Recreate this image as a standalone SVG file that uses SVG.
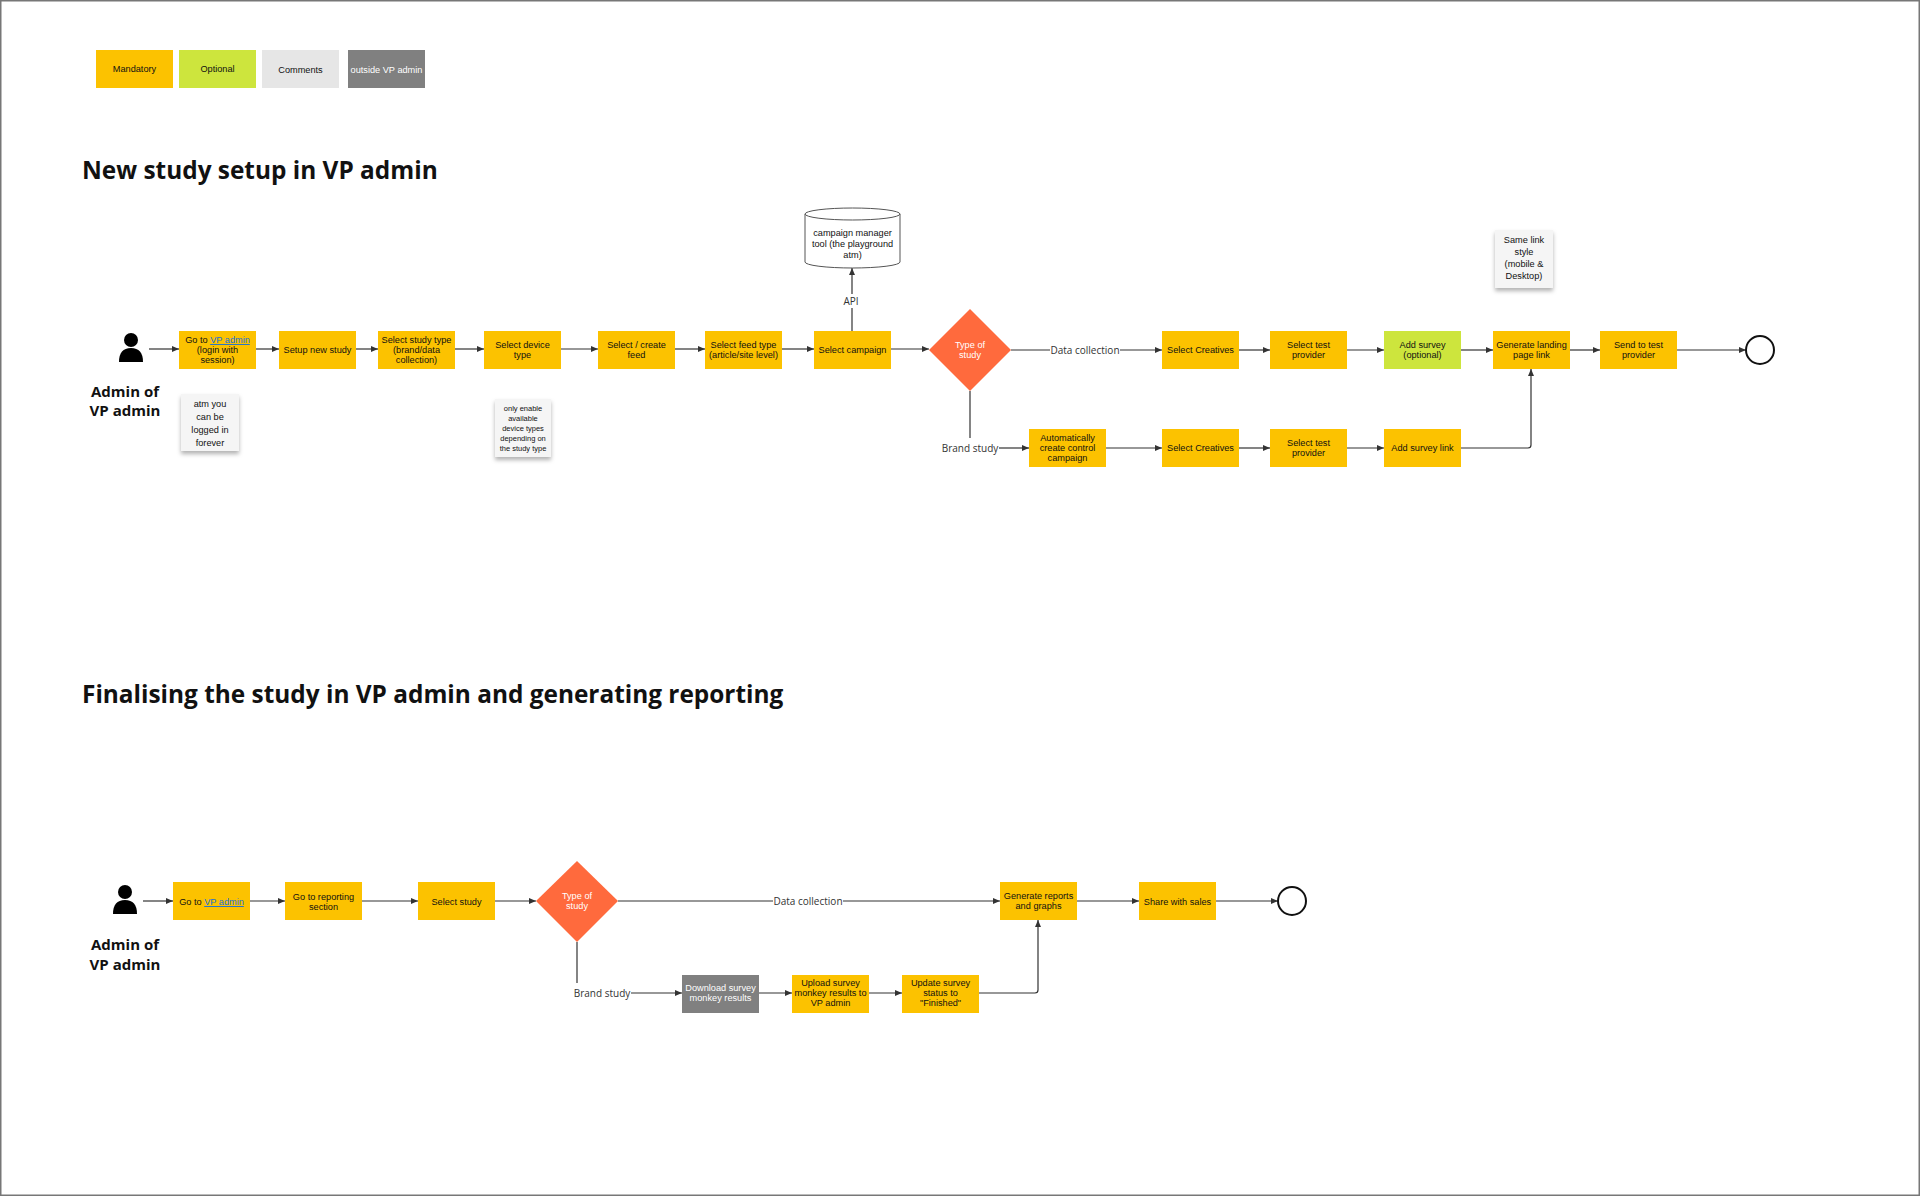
<svg xmlns="http://www.w3.org/2000/svg" width="1920" height="1196" viewBox="0 0 1920 1196">
<defs>
<marker id="ar" markerWidth="8" markerHeight="8" refX="7" refY="4" orient="auto" markerUnits="userSpaceOnUse"><path d="M0,1 L7,4 L0,7 z" fill="#333"/></marker>
<filter id="sh" x="-20%" y="-20%" width="140%" height="150%"><feDropShadow dx="0" dy="3" stdDeviation="2" flood-color="#000" flood-opacity="0.3"/></filter>
</defs>
<style>
.m{fill:#fcc200}.o{fill:#cde53d}.c{fill:#e6e6e6}.g{fill:#808080}
.t{font-family:"Liberation Sans",Arial,sans-serif;font-size:9.2px;fill:#111;text-anchor:middle}
.lb{font-family:"Open Sans","Liberation Sans",sans-serif;font-size:10px;fill:#333;text-anchor:middle}
.bg{fill:#fff}
.h{font-family:"Open Sans","Noto Sans",sans-serif;font-size:24.4px;font-weight:bold;fill:#111}
.a{font-family:"Open Sans","Noto Sans",sans-serif;font-size:15px;font-weight:bold;fill:#111;text-anchor:middle}
.n{fill:#f5f5f5;filter:url(#sh)}
.ln{fill:none;stroke:#333;stroke-width:1.2;marker-end:url(#ar)}
.pl{fill:none;stroke:#333;stroke-width:1.2}
.lk{fill:#1a6fd6;text-decoration:underline}
.d{fill:#ff6a3d}
</style>
<rect x="0.5" y="0.5" width="1919" height="1195" fill="#fff" stroke="#777" stroke-width="2"/>
<g id="legend">
<rect class="m" x="96" y="50" width="77" height="38"/><text class="t" x="134.5" y="72">Mandatory</text>
<rect class="o" x="179" y="50" width="77" height="38"/><text class="t" x="217.5" y="72">Optional</text>
<rect class="c" x="262" y="50" width="77" height="38"/><text class="t" x="300.5" y="73">Comments</text>
<rect class="g" x="348" y="50" width="77" height="38"/><text class="t" x="386.5" y="73" style="fill:#fff">outside VP admin</text>
</g>
<text class="h" x="82" y="179">New study setup in VP admin</text>
<text class="h" x="82" y="703">Finalising the study in VP admin and generating reporting</text>
<g id="connectors">
<path class="ln" d="M149,349 H179"/>
<path class="ln" d="M256,349 H279"/>
<path class="ln" d="M356,349 H378"/>
<path class="ln" d="M455,349 H484"/>
<path class="ln" d="M561,349 H598"/>
<path class="ln" d="M675,349 H705"/>
<path class="ln" d="M782,349 H814"/>
<path class="ln" d="M891,349 H929"/>
<path class="ln" d="M852,331 V268"/>
<rect class="bg" x="840" y="294" width="24" height="14"/>
<text class="lb" x="851" y="305">API</text>
<path class="ln" d="M1011,350 H1162"/>
<rect class="bg" x="1050" y="343" width="70" height="14"/>
<text class="lb" x="1085" y="354">Data collection</text>
<path class="ln" d="M1239,350 H1270"/>
<path class="ln" d="M1347,350 H1384"/>
<path class="ln" d="M1461,350 H1493"/>
<path class="ln" d="M1570,350 H1600"/>
<path class="ln" d="M1677,350 H1746"/>
<path class="pl" d="M970,391 V438"/>
<text class="lb" x="970" y="452">Brand study</text>
<path class="ln" d="M999,448 H1029"/>
<path class="ln" d="M1106,448 H1162"/>
<path class="ln" d="M1239,448 H1270"/>
<path class="ln" d="M1347,448 H1384"/>
<path class="ln" d="M1461,448 H1528 Q1531,448 1531,445 V369"/>
<path class="ln" d="M143,901 H173"/>
<path class="ln" d="M250,901 H285"/>
<path class="ln" d="M362,901 H418"/>
<path class="ln" d="M495,901 H536"/>
<path class="ln" d="M618,901 H1000"/>
<rect class="bg" x="773" y="894" width="70" height="14"/>
<text class="lb" x="808" y="905">Data collection</text>
<path class="ln" d="M1077,901 H1139"/>
<path class="ln" d="M1216,901 H1278"/>
<path class="pl" d="M577,942 V983"/>
<text class="lb" x="602" y="997">Brand study</text>
<path class="ln" d="M631,993 H682"/>
<path class="ln" d="M759,993 H792"/>
<path class="ln" d="M869,993 H902"/>
<path class="ln" d="M979,993 H1035 Q1038,993 1038,990 V920"/>
</g>
<g id="actor1"><circle cx="131" cy="340" r="7" fill="#000"/><path d="M119,362 Q119,348 131,348 Q143,348 143,362 z" fill="#000"/><text class="a" x="125" y="397">Admin of</text><text class="a" x="125" y="416">VP admin</text></g>
<g id="n1"><rect class="m" x="179" y="331" width="77" height="38"/><text class="t" x="217.5" y="343">Go to <tspan class="lk">VP admin</tspan></text><text class="t" x="217.5" y="353">(login with</text><text class="t" x="217.5" y="363">session)</text></g>
<g id="n2"><rect class="m" x="279" y="331" width="77" height="38"/><text class="t" x="317.5" y="353">Setup new study</text></g>
<g id="n3"><rect class="m" x="378" y="331" width="77" height="38"/><text class="t" x="416.5" y="343">Select study type</text><text class="t" x="416.5" y="353">(brand/data</text><text class="t" x="416.5" y="363">collection)</text></g>
<g id="n4"><rect class="m" x="484" y="331" width="77" height="38"/><text class="t" x="522.5" y="348">Select device</text><text class="t" x="522.5" y="358">type</text></g>
<g id="n5"><rect class="m" x="598" y="331" width="77" height="38"/><text class="t" x="636.5" y="348">Select / create</text><text class="t" x="636.5" y="358">feed</text></g>
<g id="n6"><rect class="m" x="705" y="331" width="77" height="38"/><text class="t" x="743.5" y="348">Select feed type</text><text class="t" x="743.5" y="358">(article/site level)</text></g>
<g id="n7"><rect class="m" x="814" y="331" width="77" height="38"/><text class="t" x="852.5" y="353">Select campaign</text></g>
<g id="db"><path d="M805,214 V262 A47.5,6 0 0 0 900,262 V214" fill="#fff" stroke="#555"/><ellipse cx="852.5" cy="214" rx="47.5" ry="6" fill="#fff" stroke="#555"/><text class="t" x="852.5" y="236">campaign manager</text><text class="t" x="852.5" y="247">tool (the playground</text><text class="t" x="852.5" y="258">atm)</text></g>
<g id="d1"><path class="d" d="M970,309 L1011,350 L970,391 L929,350 z"/><text class="t" x="970" y="348" style="fill:#fff">Type of</text><text class="t" x="970" y="358" style="fill:#fff">study</text></g>
<g id="n8"><rect class="m" x="1162" y="331" width="77" height="38"/><text class="t" x="1200.5" y="353">Select Creatives</text></g>
<g id="n9"><rect class="m" x="1270" y="331" width="77" height="38"/><text class="t" x="1308.5" y="348">Select test</text><text class="t" x="1308.5" y="358">provider</text></g>
<g id="n10"><rect class="o" x="1384" y="331" width="77" height="38"/><text class="t" x="1422.5" y="348">Add survey</text><text class="t" x="1422.5" y="358">(optional)</text></g>
<g id="n11"><rect class="m" x="1493" y="331" width="77" height="38"/><text class="t" x="1531.5" y="348">Generate landing</text><text class="t" x="1531.5" y="358">page link</text></g>
<g id="n12"><rect class="m" x="1600" y="331" width="77" height="38"/><text class="t" x="1638.5" y="348">Send to test</text><text class="t" x="1638.5" y="358">provider</text></g>
<g id="end1"><circle cx="1760" cy="350" r="14" fill="#fff" stroke="#111" stroke-width="2"/></g>
<g id="n13"><rect class="m" x="1029" y="429" width="77" height="38"/><text class="t" x="1067.5" y="441">Automatically</text><text class="t" x="1067.5" y="451">create control</text><text class="t" x="1067.5" y="461">campaign</text></g>
<g id="n14"><rect class="m" x="1162" y="429" width="77" height="38"/><text class="t" x="1200.5" y="451">Select Creatives</text></g>
<g id="n15"><rect class="m" x="1270" y="429" width="77" height="38"/><text class="t" x="1308.5" y="446">Select test</text><text class="t" x="1308.5" y="456">provider</text></g>
<g id="n16"><rect class="m" x="1384" y="429" width="77" height="38"/><text class="t" x="1422.5" y="451">Add survey link</text></g>
<g id="note1"><rect class="n" x="181" y="394" width="58" height="57"/><text class="t" x="210" y="407">atm you</text><text class="t" x="210" y="420">can be</text><text class="t" x="210" y="433">logged in</text><text class="t" x="210" y="446">forever</text></g>
<g id="note2"><rect class="n" x="495" y="399" width="56" height="58"/><text class="t" x="523" y="411" style="font-size:7.5px">only enable</text><text class="t" x="523" y="421" style="font-size:7.5px">available</text><text class="t" x="523" y="431" style="font-size:7.5px">device types</text><text class="t" x="523" y="441" style="font-size:7.5px">depending on</text><text class="t" x="523" y="451" style="font-size:7.5px">the study type</text></g>
<g id="note3"><rect class="n" x="1495" y="230" width="58" height="58"/><text class="t" x="1524" y="243">Same link</text><text class="t" x="1524" y="255">style</text><text class="t" x="1524" y="267">(mobile &amp;</text><text class="t" x="1524" y="279">Desktop)</text></g>
<g id="actor2"><circle cx="125" cy="892" r="7" fill="#000"/><path d="M113,914 Q113,900 125,900 Q137,900 137,914 z" fill="#000"/><text class="a" x="125" y="950">Admin of</text><text class="a" x="125" y="970">VP admin</text></g>
<g id="r1"><rect class="m" x="173" y="882" width="77" height="38"/><text class="t" x="211.5" y="905">Go to <tspan class="lk">VP admin</tspan></text></g>
<g id="r2"><rect class="m" x="285" y="882" width="77" height="38"/><text class="t" x="323.5" y="900">Go to reporting</text><text class="t" x="323.5" y="910">section</text></g>
<g id="r3"><rect class="m" x="418" y="882" width="77" height="38"/><text class="t" x="456.5" y="905">Select study</text></g>
<g id="d2"><path class="d" d="M577,861 L618,901 L577,942 L536,901 z"/><text class="t" x="577" y="899" style="fill:#fff">Type of</text><text class="t" x="577" y="909" style="fill:#fff">study</text></g>
<g id="r4"><rect class="m" x="1000" y="882" width="77" height="38"/><text class="t" x="1038.5" y="899">Generate reports</text><text class="t" x="1038.5" y="909">and graphs</text></g>
<g id="r5"><rect class="m" x="1139" y="882" width="77" height="38"/><text class="t" x="1177.5" y="905">Share with sales</text></g>
<g id="end2"><circle cx="1292" cy="901" r="14" fill="#fff" stroke="#111" stroke-width="2"/></g>
<g id="r6"><rect class="g" x="682" y="975" width="77" height="38"/><text class="t" x="720.5" y="991" style="fill:#fff">Download survey</text><text class="t" x="720.5" y="1001" style="fill:#fff">monkey results</text></g>
<g id="r7"><rect class="m" x="792" y="975" width="77" height="38"/><text class="t" x="830.5" y="986">Upload survey</text><text class="t" x="830.5" y="996">monkey results to</text><text class="t" x="830.5" y="1006">VP admin</text></g>
<g id="r8"><rect class="m" x="902" y="975" width="77" height="38"/><text class="t" x="940.5" y="986">Update survey</text><text class="t" x="940.5" y="996">status to</text><text class="t" x="940.5" y="1006">"Finished"</text></g>
</svg>
